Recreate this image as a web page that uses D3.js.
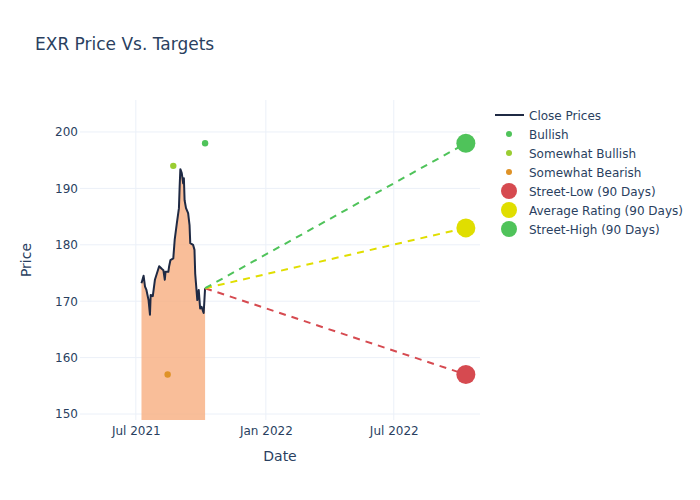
<!DOCTYPE html>
<html><head><meta charset="utf-8">
<script src="https://cdn.jsdelivr.net/npm/d3@7/dist/d3.min.js"></script>
<style>body{margin:0;background:#fff;} text{font-family:"DejaVu Sans",Verdana,sans-serif;}</style>
</head><body><svg id="c" width="700" height="500"></svg>
<script>
const closeDates = ["2021-07-09","2021-07-12","2021-07-14","2021-07-16","2021-07-19","2021-07-21","2021-07-22","2021-07-25","2021-07-28","2021-07-30","2021-08-03","2021-08-07","2021-08-09","2021-08-11","2021-08-12","2021-08-16","2021-08-17","2021-08-19","2021-08-23","2021-08-25","2021-08-28","2021-08-31","2021-09-01","2021-09-02","2021-09-04","2021-09-06","2021-09-07","2021-09-08","2021-09-10","2021-09-13","2021-09-15","2021-09-16","2021-09-20","2021-09-22","2021-09-23","2021-09-26","2021-09-28","2021-09-30","2021-10-02","2021-10-05","2021-10-07"];
const closePrices = [173.2,174.5,172.6,172.0,170.2,167.6,171.1,170.9,173.8,174.6,176.2,175.7,175.5,173.8,175.2,175.2,176.1,177.3,177.6,180.9,183.8,186.5,190.3,193.4,192.7,190.9,191.8,187.9,186.5,185.6,183.5,180.3,180.0,179.1,174.9,170.2,172.0,168.7,169.0,167.9,172.3];

const ratingNames = ["Bullish","Somewhat Bullish","Somewhat Bearish"];
const ratingDates = ["2021-10-07","2021-08-23","2021-08-15"];
const ratingPrices = [198,194,157];
const ratingColors = ["#4fc35a","#9acd32","#df9227"];

const targetNames = ["Street-Low (90 Days)","Average Rating (90 Days)","Street-High (90 Days)"];
const targetDate = "2022-10-11";
const targetPrices = [157,183,198];
const targetColors = ["#d64a50","#e0de00","#4fc35a"];

const xTicks = ["2021-07-01","2022-01-01","2022-07-01"];
const xTickLabels = ["Jul 2021","Jan 2022","Jul 2022"];
const yTicks = [150,160,170,180,190,200];

const P = d3.timeParse("%Y-%m-%d");
const svg = d3.select("#c");
const L=80,R=480,T=100,B=420;
const x = d3.scaleTime().domain([P("2021-04-13"),P("2022-10-31")]).range([L,R]);
const y = d3.scaleLinear().domain([148.94,205.67]).range([B,T]);
const txt="#2a3f5f", grid="#ebf0f8";

svg.append("text").attr("x",35).attr("y",50).attr("font-size",17).attr("fill",txt).text("EXR Price Vs. Targets");

const defs=svg.append("defs");
defs.append("clipPath").attr("id","clip").append("rect").attr("x",L).attr("y",T).attr("width",R-L).attr("height",B-T);

// grid
const g=svg.append("g");
g.selectAll(".yg").data(yTicks).join("line").attr("x1",L).attr("x2",R).attr("y1",d=>y(d)).attr("y2",d=>y(d)).attr("stroke",grid).attr("stroke-width",1);
g.selectAll(".xg").data(xTicks).join("line").attr("x1",d=>x(P(d))).attr("x2",d=>x(P(d))).attr("y1",T).attr("y2",B).attr("stroke",grid).attr("stroke-width",1);

// axes labels
const yAxis=d3.axisLeft(y).tickValues(yTicks).tickSize(0).tickPadding(2);
const ya=svg.append("g").attr("transform",`translate(${L},0)`).call(yAxis);
ya.select(".domain").remove();
ya.selectAll("text").attr("font-size",12).attr("fill",txt).style("font-family","DejaVu Sans");
const xAxis=d3.axisBottom(x).tickValues(xTicks.map(P)).tickFormat((d,i)=>xTickLabels[i]).tickSize(0).tickPadding(6);
const xa=svg.append("g").attr("transform",`translate(0,${B})`).call(xAxis);
xa.select(".domain").remove();
xa.selectAll("text").attr("font-size",12).attr("fill",txt).style("font-family","DejaVu Sans");

svg.append("text").attr("x",(L+R)/2).attr("y",461).attr("text-anchor","middle").attr("font-size",14).attr("fill",txt).text("Date");
svg.append("text").attr("transform",`translate(31,${(T+B)/2}) rotate(-90)`).attr("text-anchor","middle").attr("font-size",14).attr("fill",txt).text("Price");

const data=closeDates.map((d,i)=>({d:P(d),v:closePrices[i]}));
const plot=svg.append("g").attr("clip-path","url(#clip)");
plot.append("path").datum(data).attr("d",d3.area().x(d=>x(d.d)).y0(y(0)).y1(d=>y(d.v))).attr("fill","#f8ae80").attr("fill-opacity",0.8);
plot.append("path").datum(data).attr("d",d3.line().x(d=>x(d.d)).y(d=>y(d.v))).attr("fill","none").attr("stroke","#1f2a44").attr("stroke-width",2).attr("stroke-linejoin","round");

const last=data[data.length-1];
targetPrices.forEach((tp,i)=>{
  plot.append("line").attr("x1",x(last.d)).attr("y1",y(last.v)).attr("x2",x(P(targetDate))).attr("y2",y(tp))
    .attr("stroke",targetColors[i]).attr("stroke-width",2).attr("stroke-dasharray","7,6");
});
ratingPrices.forEach((rp,i)=>{
  svg.append("circle").attr("cx",x(P(ratingDates[i]))).attr("cy",y(rp)).attr("r",3.2).attr("fill",ratingColors[i]);
});
targetPrices.forEach((tp,i)=>{
  svg.append("circle").attr("cx",x(P(targetDate))).attr("cy",y(tp)).attr("r",9.5).attr("fill",targetColors[i]);
});

// legend
const lg=svg.append("g");
const items=[{n:"Close Prices",t:"line"}].concat(ratingNames.map((n,i)=>({n,t:"s",c:ratingColors[i]}))).concat(targetNames.map((n,i)=>({n,t:"b",c:targetColors[i]})));
items.forEach((it,i)=>{
  const yy=115+i*19;
  if(it.t==="line") lg.append("line").attr("x1",495).attr("x2",524).attr("y1",yy).attr("y2",yy).attr("stroke","#1f2a44").attr("stroke-width",2);
  else lg.append("circle").attr("cx",509).attr("cy",yy).attr("r",it.t==="s"?3:8).attr("fill",it.c);
  lg.append("text").attr("x",529).attr("y",yy+4.5).attr("font-size",12).attr("fill",txt).text(it.n);
});
</script></body></html>
